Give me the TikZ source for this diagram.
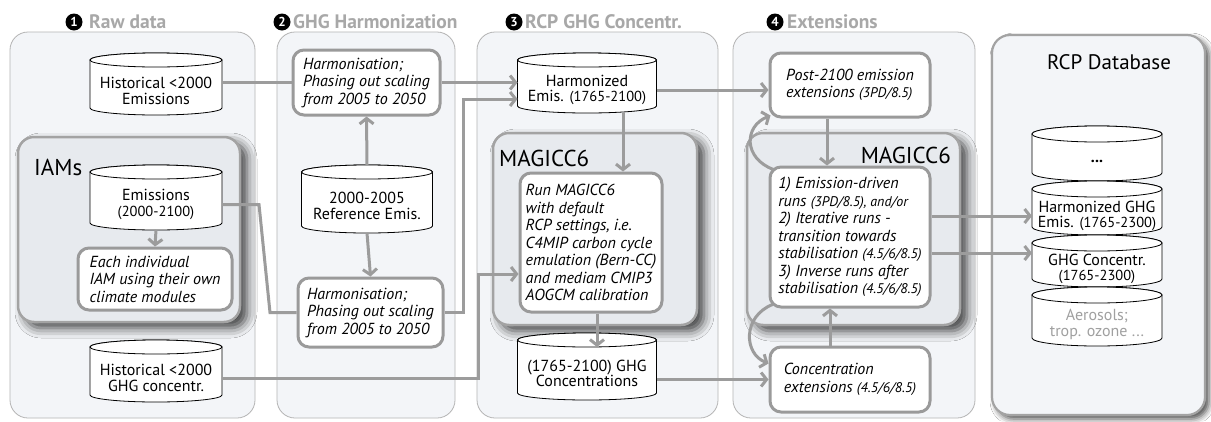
\documentclass[tikz,border=0pt]{standalone}
\usepackage{fontspec}
\setmainfont{PT Sans}
\usetikzlibrary{arrows.meta,shadows.blur,calc}
\definecolor{panelfill}{HTML}{F3F5F8}
\definecolor{panelline}{HTML}{B4B4B4}
\definecolor{innerfill}{HTML}{E7EAEE}
\definecolor{innerline}{HTML}{A3A3A3}
\definecolor{conncol}{HTML}{9C9C9C}
\definecolor{titlecol}{HTML}{A8A8A8}
\definecolor{boxline}{HTML}{9A9A9A}
\definecolor{aerocol}{HTML}{A0A0A0}
\pgfdeclarelayer{bg}\pgfdeclarelayer{mid}\pgfsetlayers{bg,mid,main}
\newcommand\sm{\fontsize{14.5}{15}\selectfont}
\newcommand\xs{\fontsize{14}{15}\selectfont}
\tikzset{
 panel/.style={draw=panelline, line width=0.8pt, fill=panelfill, rounded corners=18pt},
 innerpanel/.style={draw=innerline, line width=2.5pt, fill=innerfill, rounded corners=16pt,
   blur shadow={shadow xshift=7pt, shadow yshift=-6pt, shadow blur radius=10pt, shadow opacity=75}},
 dbpanel/.style={draw=innerline, line width=2.2pt, fill=panelfill, rounded corners=18pt,
   blur shadow={shadow xshift=4pt, shadow yshift=-4pt, shadow blur radius=6pt, shadow opacity=70}},
 box/.style={draw=boxline, line width=3pt, fill=white, rounded corners=11pt, align=left,
   font=\itshape\fontsize{16}{17.5}\selectfont, inner sep=0pt},
 cyltext/.style={align=center, font=\fontsize{16}{15.5}\selectfont, inner sep=0pt, outer sep=0pt},
 cylline/.style={draw=black, line width=0.8pt, fill=white},
 conn/.style={draw=conncol, line width=3pt},
 arr/.style={conn, -{Straight Barb[length=5.5pt,width=14pt]}},
 num/.style={circle, fill=black, text=white, inner sep=0pt, minimum size=17pt,
   font=\bfseries\fontsize{13}{13}\selectfont},
 title/.style={anchor=west, inner sep=1pt, text=titlecol, font=\bfseries\fontsize{19.5}{22}\selectfont},
 biglabel/.style={inner sep=1pt, font=\fontsize{23}{26}\selectfont},
 dblabel/.style={inner sep=1pt, font=\fontsize{21}{24}\selectfont}
}
% #1 ry, #2 name, #3 cx, #4 top, #5 bottom, #6 width, #7 text
\newcommand\cyl[7][7]{%
  \node[cyltext, minimum width=#6pt, minimum height={(#5-#4-2*#1)*1pt}] (#2) at (#3,{(#4+2*#1+#5)/2}) {#7};
  \begin{pgfonlayer}{mid}
  \draw[cylline] ([yshift=#1pt]#2.north west) -- ([yshift=#1pt]#2.south west)
     arc[start angle=180,end angle=360,x radius={#6pt/2},y radius=#1pt]
     -- ([yshift=#1pt]#2.north east)
     arc[start angle=0,end angle=180,x radius={#6pt/2},y radius=#1pt] -- cycle;
  \draw[cylline] ([yshift=#1pt]#2.north) ellipse[x radius={#6pt/2},y radius=#1pt];
  \end{pgfonlayer}}
\begin{document}
\begin{tikzpicture}[x=1pt,y=-1pt]
\useasboundingbox (0,0) rectangle (1211,421);
\begin{pgfonlayer}{bg}
\fill[white] (0,0) rectangle (1211,421);
\draw[panel] (10,32) rectangle (255,418);
\draw[panel] (277,32) rectangle (455,418);
\draw[panel] (477,32) rectangle (718,418);
\draw[panel] (733,32) rectangle (975,418);
\draw[innerpanel] (18,137) rectangle (240,322);
\draw[innerpanel] (493,133) rectangle (697,325);
\draw[innerpanel] (747,133) rectangle (960,325);
\draw[dbpanel] (992,35) rectangle (1205,415);
\end{pgfonlayer}

% titles
\node[num] (n1) at (74,22) {1};
\node[title] (t1) at (88,22) {Raw data};
\node[num] (n2) at (282,22) {2};
\node[title] (t2) at (292,22) {GHG Harmonization};
\node[num] (n3) at (514,22) {3};
\node[title] (t3) at (524,22) {RCP GHG Concentr.};
\node[num] (n4) at (775,22) {4};
\node[title] (t4) at (786,22) {Extensions};

\node[biglabel, anchor=west] (iamslbl) at (33,167) {IAMs};
\node[biglabel, anchor=west] (mag3lbl) at (498,158) {MAGICC6};
\node[biglabel, anchor=east] (mag4lbl) at (952,155) {MAGICC6};
\node[dblabel] (dblbl) at (1109,62) {RCP Database};

% cylinders
\cyl{histE}{156}{53}{115}{132}{Historical <2000\\Emissions}
\cyl{emis}{156}{165}{230}{132}{Emissions\\{\sm(2000-2100)}}
\cyl{histC}{156}{340}{402}{132}{Historical <2000\\GHG concentr.}
\cyl{ref}{367}{165}{233}{131}{2000-2005\\Reference Emis.}
\cyl{harmE}{587}{53}{113}{139}{Harmonized\\Emis. {\sm(1765-2100)}}
\cyl{ghgC}{587}{333}{400}{139}{(1765-2100) GHG\\Concentrations}
\cyl[8]{db1}{1097}{126}{181}{130}{\textbf{...}}
\cyl[8]{db2}{1097}{181}{235}{130}{Harmonized GHG\\Emis. {\sm(1765-2300)}}
\cyl[8]{db3}{1097}{235}{287}{130}{GHG Concentr.\\{\sm(1765-2300)}}
\cyl[8]{db4}{1097}{287}{346}{130}{\color{aerocol}Aerosols;\\\color{aerocol}trop. ozone ...}

% boxes
\node[box, minimum width=154pt, minimum height=62pt] (each) at (155,279) {Each individual\\IAM using their own\\climate modules};
\node[box, minimum width=147pt, minimum height=65pt] (harm1) at (366.5,82.5) {Harmonisation;\\Phasing out scaling\\from 2005 to 2050};
\node[box, minimum width=145pt, minimum height=69pt] (harm2) at (370.5,312.5) {Harmonisation;\\Phasing out scaling\\from 2005 to 2050};
\node[box, minimum width=142pt, minimum height=139pt] (run) at (591,242.5) {Run MAGICC6\\with default\\RCP settings, i.e.\\C4MIP carbon cycle\\emulation (Bern-CC)\\and mediam CMIP3\\AOGCM calibration};
\node[box, minimum width=160pt, minimum height=64pt] (post) at (850,85) {Post-2100 emission\\extensions {\xs(3PD/8.5)}};
\node[box, minimum width=160pt, minimum height=140pt] (emrun) at (850,237) {1) Emission-driven\\runs {\xs(3PD/8.5), and/or}\\2) Iterative runs -\\transition towards\\stabilisation {\xs(4.5/6/8.5)}\\3) Inverse runs after\\stabilisation {\xs(4.5/6/8.5)}};
\node[box, minimum width=160pt, minimum height=65pt] (concext) at (850,379.5) {Concentration\\extensions {\xs(4.5/6/8.5)}};

% helper coordinates
\coordinate (k1) at (259,0);
\coordinate (k2) at (270,0);
\coordinate (j1) at (463,99);
\coordinate (j2) at (478,274);
\coordinate (j3) at (623,0);
\coordinate (j4) at (827,0);
\path ([yshift=16pt]db3.west) coordinate (db3in);

% connectors
\draw[conn] (histE.east |- harm1.west) -- (harm1.west);
\draw[arr] (harm1.east) -- (harm1.east -| harmE.west);
\draw[arr] (harm2.east) -| (j1) -- (j1 -| harmE.west);
\draw[conn] (emis.east) -- (emis.east -| k1) -- (harm2.west -| k2) -- (harm2.west);
\draw[arr] ([yshift=14pt]ref.north) -- (harm1.south);
\draw[arr] (ref.south) -- (harm2.north);
\draw[arr] (emis.south) -- (each.north);
\draw[arr] (histC.east) -| (j2) -- (j2 -| run.west);
\draw[arr] (harmE.south -| j3) -- (run.north -| j3);
\draw[arr] ([xshift=6pt]run.south) -- ([xshift=6pt]run.south |- ghgC.north);
\draw[arr] (harmE.east) -- (harmE.east -| post.west);
\draw[arr] (ghgC.east |- concext.west) -- (concext.west);
\draw[arr] (post.south -| j4) -- (emrun.north -| j4);
\draw[arr] ([xshift=-20pt]concext.north) -- ([xshift=-20pt]emrun.south);
\draw[arr] ([xshift=5pt,yshift=-4pt]emrun.north west) .. controls +(-30,-11) and +(-27,11) .. ([xshift=2pt,yshift=3pt]post.south west);
\draw[arr] ([xshift=4pt,yshift=4pt]emrun.south west) .. controls +(-30,12) and +(-25,-10) .. ([yshift=-18pt]concext.north west);
\draw[arr] (emrun.east |- db2.west) -- (db2.west);
\draw[arr] (emrun.east |- db3in) -- (db3in);
\end{tikzpicture}
\end{document}
